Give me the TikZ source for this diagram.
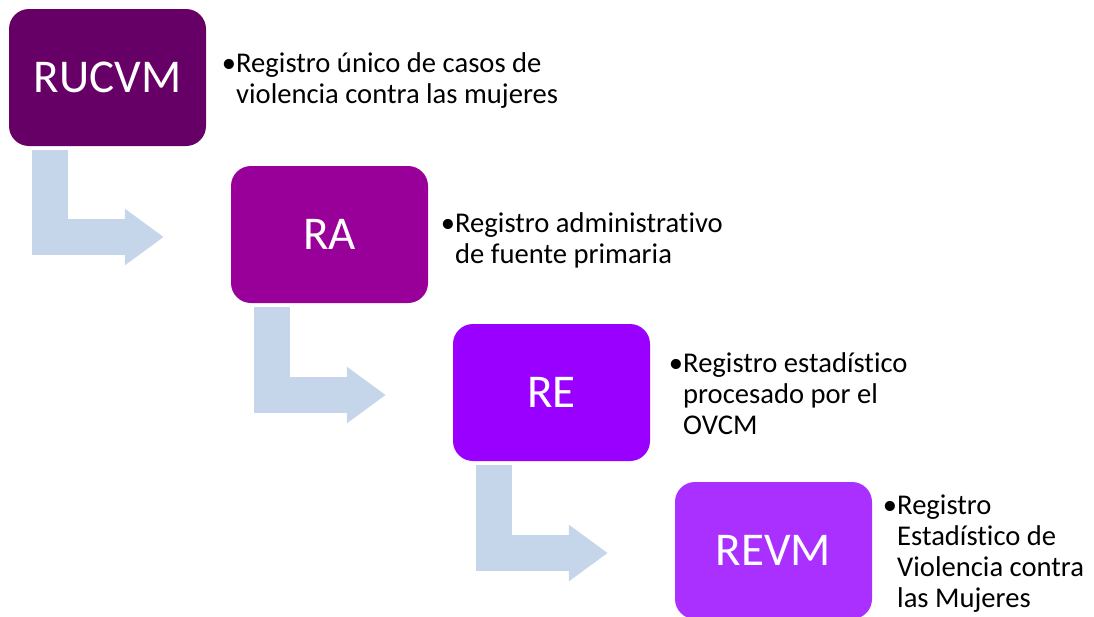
\documentclass[tikz,border=0pt]{standalone}
\usepackage{fontspec}
\setmainfont[Ligatures={NoCommon}]{Carlito}
\usetikzlibrary{arrows.meta,calc}
\definecolor{cA}{RGB}{102,0,102}
\definecolor{cB}{RGB}{153,0,153}
\definecolor{cC}{RGB}{153,0,255}
\definecolor{cD}{RGB}{170,48,255}
\definecolor{flowblue}{RGB}{197,213,234}
\begin{document}
\begin{tikzpicture}[x=1pt,y=-1pt,
  regbox/.style={rounded corners=20pt, minimum width=197pt, minimum height=137pt,
    inner sep=0pt, text=white, font=\fontsize{47}{55}\selectfont},
  desc/.style={anchor=base west, inner sep=0pt, font=\fontsize{28.6}{31}\selectfont},
  flow/.style={draw=flowblue, line width=36pt, line cap=butt, line join=miter,
    -{Triangle[width=54pt,length=39pt]}}]
\useasboundingbox (0,0) rectangle (1094,616);
\node[regbox, fill=cA] (b1) at (107.5,77.5) {RUCVM};
\node[regbox, fill=cB] (b2) at (329.5,234.5) {RA};
\node[regbox, fill=cC] (b3) at (551.5,392.5) {RE};
\node[regbox, fill=cD] (b4) at (773.5,550.5) {REVM};
\node[desc] (t1) at (236,72) {\parbox[t]{400pt}{\raggedright\leavevmode\llap{•}Registro único de casos de\\violencia contra las mujeres}};
\node[desc] (t2) at (455,232) {\parbox[t]{400pt}{\raggedright\leavevmode\llap{•}Registro administrativo\\de fuente primaria}};
\node[desc] (t3) at (683,372) {\parbox[t]{400pt}{\raggedright\leavevmode\llap{•}Registro estadístico\\procesado por el\\OVCM}};
\node[desc] (t4) at (897,514) {\parbox[t]{400pt}{\raggedright\leavevmode\llap{•}Registro\\Estadístico de\\Violencia contra\\las Mujeres}};
\draw[flow] ($(b1.south west)+(41,4)$) |- ($(b2.west)+(-67,2.5)$);
\draw[flow] ($(b2.south west)+(41,4)$) |- ($(b3.west)+(-67,2.5)$);
\draw[flow] ($(b3.south west)+(41,4)$) |- ($(b4.west)+(-67,2.5)$);
\end{tikzpicture}
\end{document}
